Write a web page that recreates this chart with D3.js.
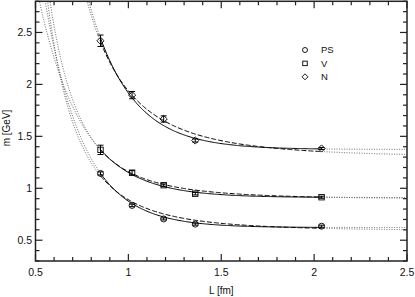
<!DOCTYPE html>
<html lang="en">
<head>
  <meta charset="UTF-8">
  <title>Masses vs L</title>
  <script src="https://d3js.org/d3.v7.min.js"></script>
  <style>
    body { margin: 0; background: #fff; }
    text { font-family: "Liberation Sans", Arial, sans-serif; fill: #111; }
  </style>
</head>
<body>
<div class="main"></div>
<script>

  // lattice sizes and measured masses
  const boxL = [0.85, 1.02, 1.19, 1.36, 2.04];
  const massPS = [1.143, 0.835, 0.705, 0.655, 0.635];
  const errPS = [0.015, 0.012, 0.01, 0.01, 0.01];
  const massV = [1.37, 1.15, 1.03, 0.948, 0.914];
  const errV = [0.045, 0.02, 0.012, 0.012, 0.01];
  const massN = [2.42, 1.897, 1.667, 1.46, 1.383];
  const errN = [0.055, 0.035, 0.03, 0.015, 0.01];

  const seriesNames = ["PS", "V", "N"];
  const seriesSymbols = ["circle", "square", "diamond"];

  // fit parameters: m(L) = minf + c * exp(-b (L-1)) / L^n
  const fitSolidMinf = [0.622, 0.911, 1.374];
  const fitSolidC = [0.254, 0.241, 0.543];
  const fitSolidB = [4.8, 4.3, 4.53];
  const fitDashedMinf = [0.59, 0.895, 1.297];
  const fitDashedC = [0.30, 0.265, 0.64];
  const fitDashedN = [3.5, 3.6, 3.4];

  const xTicks = [0.5, 1, 1.5, 2, 2.5];
  const yTicks = [0.5, 1, 1.5, 2, 2.5];

  let width = 415, height = 297;
  let plotLeft = 35.5, plotRight = 407, plotTop = 1.3, plotBottom = 261;

  let xScale = d3.scaleLinear().domain([0.5, 2.5]).range([plotLeft, plotRight]);
  let yScale = d3.scaleLinear().domain([0.3, 2.8]).range([plotBottom, plotTop]);

  let svg = d3.select(".main").append("svg")
          .attr("width", width)
          .attr("height", height)
          .style("display", "block");

  svg.append("clipPath").attr("id", "plotclip")
          .append("rect")
          .attr("x", plotLeft).attr("y", plotTop)
          .attr("width", plotRight - plotLeft).attr("height", plotBottom - plotTop);

  let fitFn = function (minf, c, b, n) {
    return function (L) { return minf + c * Math.exp(-b * (L - 1)) / Math.pow(L, n); };
  };

  let line = d3.line().x(d => xScale(d[0])).y(d => yScale(d[1]));

  function sample(f, from, to) {
    return d3.range(0, 201).map(i => {
      let L = from + (to - from) * i / 200;
      return [L, f(L)];
    });
  }

  let curves = svg.append("g").attr("clip-path", "url(#plotclip)");
  let lMin = d3.min(boxL), lMax = d3.max(boxL);

  for (let s = 0; s < 3; s++) {
    let fits = [
      {f: fitFn(fitSolidMinf[s], fitSolidC[s], fitSolidB[s], 0), dash: null},
      {f: fitFn(fitDashedMinf[s], fitDashedC[s], 0, fitDashedN[s]), dash: "5,2"}
    ];
    fits.forEach(function (fit) {
      // dotted extensions outside the fitted range
      [[0.5, lMin], [lMax, 2.5]].forEach(function (r) {
        curves.append("path")
                .attr("d", line(sample(fit.f, r[0], r[1])))
                .style("fill", "none")
                .style("stroke", "#555")
                .style("stroke-width", 0.9)
                .style("stroke-dasharray", "1,1.5");
      });
      curves.append("path")
              .attr("d", line(sample(fit.f, lMin, lMax)))
              .style("fill", "none")
              .style("stroke", "#000")
              .style("stroke-width", 1)
              .style("stroke-dasharray", fit.dash);
    });
  }

  // symbols (size = full width of the mark)
  function drawSymbol(g, type, cx, cy, size) {
    if (type == "circle") {
      g.append("circle").attr("cx", cx).attr("cy", cy).attr("r", size * 0.5)
              .style("fill", "none").style("stroke", "#000").style("stroke-width", 0.9);
    } else if (type == "square") {
      g.append("rect").attr("x", cx - size * 0.45).attr("y", cy - size * 0.45)
              .attr("width", size * 0.9).attr("height", size * 0.9)
              .style("fill", "none").style("stroke", "#000").style("stroke-width", 0.9);
    } else {
      let h = size * 0.6;
      g.append("path").attr("d", `M${cx},${cy - h}L${cx + h},${cy}L${cx},${cy + h}L${cx - h},${cy}Z`)
              .style("fill", "none").style("stroke", "#000").style("stroke-width", 0.9);
    }
  }

  let allMass = [massPS, massV, massN];
  let allErr = [errPS, errV, errN];
  let points = svg.append("g");
  for (let s = 0; s < 3; s++) {
    boxL.forEach(function (L, i) {
      let cx = xScale(L);
      let y1 = yScale(allMass[s][i] + allErr[s][i]);
      let y2 = yScale(allMass[s][i] - allErr[s][i]);
      points.append("line").attr("x1", cx).attr("x2", cx).attr("y1", y1).attr("y2", y2)
              .style("stroke", "#000").style("stroke-width", 1);
      [y1, y2].forEach(function (yy) {
        points.append("line").attr("x1", cx - 3).attr("x2", cx + 3).attr("y1", yy).attr("y2", yy)
                .style("stroke", "#000").style("stroke-width", 1);
      });
      drawSymbol(points, seriesSymbols[s], cx, yScale(allMass[s][i]), 6);
    });
  }

  // axes with minor ticks on all four sides
  let xMinor = d3.range(5, 26).map(d => d / 10);
  let yMinor = d3.range(3, 29).map(d => d / 10);
  let axes = svg.append("g").style("stroke", "#222");

  xMinor.forEach(function (v) {
    let len = xTicks.indexOf(v) >= 0 ? 7 : 4;
    let x = xScale(v);
    axes.append("line").attr("x1", x).attr("x2", x).attr("y1", plotBottom).attr("y2", plotBottom - len).style("stroke-width", 1.2);
    axes.append("line").attr("x1", x).attr("x2", x).attr("y1", plotTop).attr("y2", plotTop + len).style("stroke-width", 1.2);
  });
  yMinor.forEach(function (v) {
    let len = yTicks.indexOf(v) >= 0 ? 7 : 4;
    let y = yScale(v);
    axes.append("line").attr("x1", plotLeft).attr("x2", plotLeft + len).attr("y1", y).attr("y2", y).style("stroke-width", 1.2);
    axes.append("line").attr("x1", plotRight).attr("x2", plotRight - len).attr("y1", y).attr("y2", y).style("stroke-width", 1.2);
  });
  axes.append("rect").attr("x", plotLeft).attr("y", plotTop)
          .attr("width", plotRight - plotLeft).attr("height", plotBottom - plotTop)
          .style("fill", "none").style("stroke-width", 1.5);

  svg.append("g").selectAll("text").data(xTicks).join("text")
          .attr("x", d => xScale(d)).attr("y", 276)
          .attr("text-anchor", "middle").style("font-size", "10.5px")
          .text(d => d);
  svg.append("g").selectAll("text").data(yTicks).join("text")
          .attr("x", 32).attr("y", d => yScale(d) + 3.8)
          .attr("text-anchor", "end").style("font-size", "10.5px")
          .text(d => d);

  svg.append("text").attr("x", xScale(1.5)).attr("y", 294)
          .attr("text-anchor", "middle").style("font-size", "10px").text("L [fm]");
  svg.append("text").attr("transform", "translate(10,128) rotate(-90)")
          .attr("text-anchor", "middle").style("font-size", "10px").text("m [GeV]");

  // legend
  let legend = svg.append("g");
  seriesNames.forEach(function (name, i) {
    let ly = 50 + i * 13.4;
    drawSymbol(legend, seriesSymbols[i], 305, ly, 5);
    legend.append("text").attr("x", 321).attr("y", ly + 3.4)
            .style("font-size", "9.5px").text(name);
  });

</script>
</body>
</html>
